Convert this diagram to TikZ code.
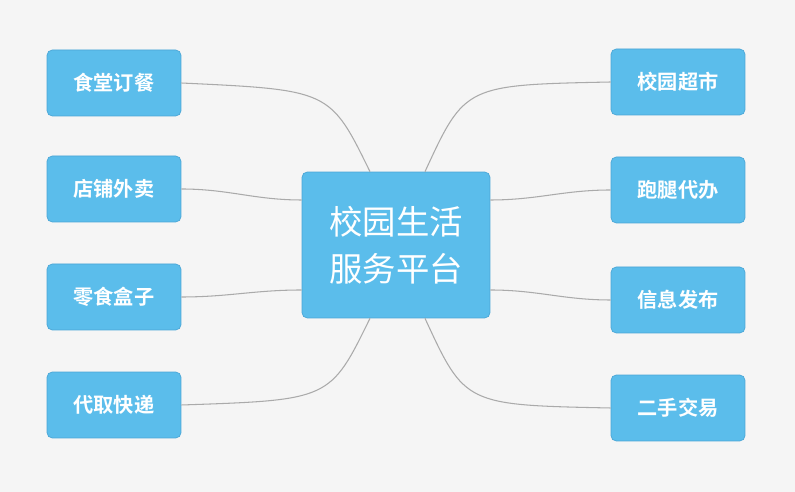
\documentclass[tikz,border=0pt]{standalone}
\usepackage{fontspec}
\setmainfont{Noto Sans CJK SC}[BoldFont={Noto Sans CJK SC Bold}]
\usetikzlibrary{calc}
\definecolor{boxfill}{HTML}{5BBDEB}
\definecolor{boxline}{HTML}{4AA6D6}
\definecolor{bg}{HTML}{F5F5F5}
\definecolor{link}{HTML}{AAAAAA}
\tikzset{
  item/.style={draw=boxline, fill=boxfill, rounded corners=3pt, text=white,
    minimum width=2.68cm, minimum height=1.32cm, font=\bfseries\fontsize{11.5}{14}\selectfont},
  hub/.style={draw=boxline, fill=boxfill, rounded corners=3pt, text=white,
    minimum width=3.76cm, minimum height=2.92cm, align=center,
    font=\fontsize{19}{27}\selectfont},
  branch/.style={draw=link, line width=0.6pt}
}
\begin{document}
\begin{tikzpicture}[x=0.02cm,y=-0.02cm]
  \fill [bg] (0,0) rectangle (795,492);
  \useasboundingbox (0,0) rectangle (795,492);
  \node [hub] (hub) at (396,245) {校园生活\\服务平台};
  % left side
  \node [item] (canteen) at (114,83) {食堂订餐};
  \node [item] (takeout) at (114,189) {店铺外卖};
  \node [item] (snack) at (114,297) {零食盒子};
  \node [item] (express) at (114,405) {代取快递};
  % right side
  \node [item] (market) at (678,82) {校园超市};
  \node [item] (errand) at (678,190) {跑腿代办};
  \node [item] (notice) at (678,300) {信息发布};
  \node [item] (second) at (678,408) {二手交易};
  % branches
  \draw [branch] ($(hub.north)+(-26,0)$) .. controls (330,90) .. (canteen.east);
  \draw [branch] ($(hub.west)+(0,-45)$) to[out=180,in=0] (takeout.east);
  \draw [branch] ($(hub.west)+(0,45)$) to[out=180,in=0] (snack.east);
  \draw [branch] ($(hub.south)+(-26,0)$) .. controls (330,400) .. (express.east);
  \draw [branch] ($(hub.north)+(29,0)$) .. controls (465,85) .. (market.west);
  \draw [branch] ($(hub.east)+(0,-45)$) to[out=0,in=180] (errand.west);
  \draw [branch] ($(hub.east)+(0,45)$) to[out=0,in=180] (notice.west);
  \draw [branch] ($(hub.south)+(29,0)$) .. controls (465,405) .. (second.west);
\end{tikzpicture}
\end{document}
